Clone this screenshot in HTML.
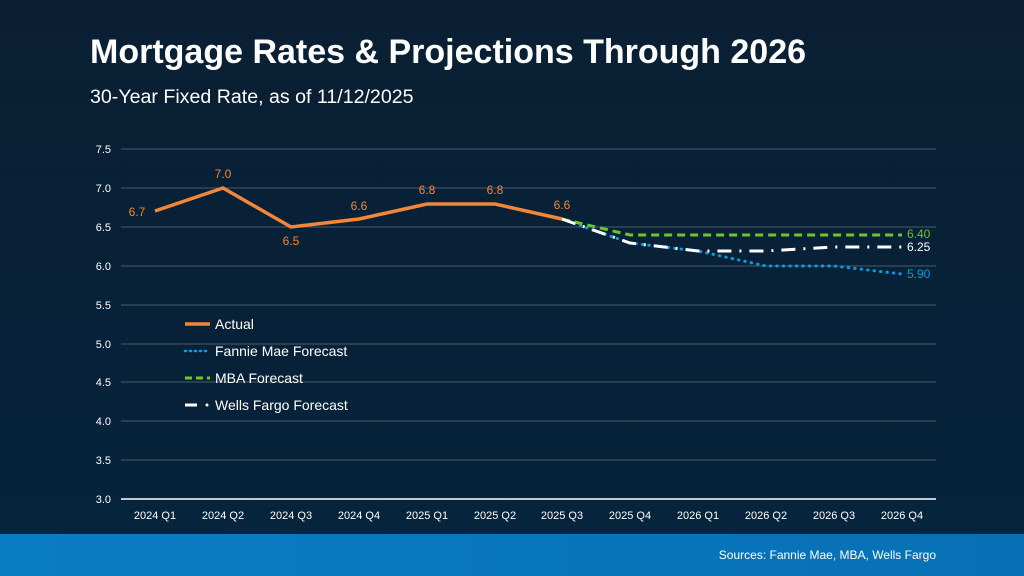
<!DOCTYPE html><html><head><style>
body{margin:0;width:1024px;height:576px;overflow:hidden;background:linear-gradient(180deg,#0a1f33 0%,#072238 60%,#06243d 100%);font-family:"Liberation Sans",Arial,sans-serif;position:relative}
.bar{position:absolute;left:0;top:534px;width:1024px;height:42px;background:linear-gradient(90deg,#0a7cc4,#0770b4)}
</style></head><body>
<div style="position:absolute;left:90px;top:33px;color:#fff;font-weight:bold;font-size:34px">Mortgage Rates &amp; Projections Through 2026</div>
<div style="position:absolute;left:90px;top:86px;color:#fff;font-size:19.6px">30-Year Fixed Rate, as of 11/12/2025</div>
<div class="bar"></div>
<div style="position:absolute;right:88px;top:548px;color:#fff;font-size:12px">Sources: Fannie Mae, MBA, Wells Fargo</div>
<svg width="1024" height="576" style="position:absolute;left:0;top:0" font-family="Liberation Sans, Arial, sans-serif">
<g stroke="#4a5a6a" stroke-width="1">
<line x1="121" x2="936" y1="149" y2="149"/><line x1="121" x2="936" y1="188" y2="188"/><line x1="121" x2="936" y1="227" y2="227"/><line x1="121" x2="936" y1="266" y2="266"/><line x1="121" x2="936" y1="305" y2="305"/><line x1="121" x2="936" y1="344" y2="344"/><line x1="121" x2="936" y1="382" y2="382"/><line x1="121" x2="936" y1="421" y2="421"/><line x1="121" x2="936" y1="460" y2="460"/>
</g>
<line x1="121" x2="936" y1="499" y2="499" stroke="#fff" stroke-width="1.5"/>
<g fill="#fff" font-size="11" text-anchor="end">
<text x="111" y="153">7.5</text><text x="111" y="192">7.0</text><text x="111" y="231">6.5</text><text x="111" y="270">6.0</text><text x="111" y="309">5.5</text><text x="111" y="348">5.0</text><text x="111" y="386">4.5</text><text x="111" y="425">4.0</text><text x="111" y="464">3.5</text><text x="111" y="503">3.0</text>
</g>
<g fill="#fff" font-size="11" text-anchor="middle">
<text x="155" y="519">2024 Q1</text><text x="223" y="519">2024 Q2</text><text x="291" y="519">2024 Q3</text><text x="359" y="519">2024 Q4</text><text x="427" y="519">2025 Q1</text><text x="495" y="519">2025 Q2</text><text x="562" y="519">2025 Q3</text><text x="630" y="519">2025 Q4</text><text x="698" y="519">2026 Q1</text><text x="766" y="519">2026 Q2</text><text x="834" y="519">2026 Q3</text><text x="902" y="519">2026 Q4</text>
</g>
<polyline fill="none" stroke="#0a9ae0" stroke-width="3" stroke-dasharray="0.5 6" stroke-linecap="round" points="562,219 630,243 698,251 766,266 834,266 902,274"/>
<polyline fill="none" stroke="#6cc623" stroke-width="3" stroke-dasharray="8 5" points="562,219 630,235 698,235 766,235 834,235 902,235"/>
<polyline fill="none" stroke="#fff" stroke-width="3" stroke-dasharray="14 8 2 8" points="562,219 630,243 698,251 766,251 834,247 902,247"/>
<polyline fill="none" stroke="#f0873a" stroke-width="3.5" points="155,211 223,188 291,227 359,219 427,204 495,204 562,219"/>
<g fill="#f0873a" font-size="12" text-anchor="middle">
<text x="137" y="216">6.7</text><text x="223" y="178">7.0</text><text x="291" y="245">6.5</text><text x="359" y="210">6.6</text><text x="427" y="194">6.8</text><text x="495" y="194">6.8</text><text x="562" y="209">6.6</text>
</g>
<text x="907" y="238" fill="#6cc623" font-size="12">6.40</text>
<text x="907" y="251" fill="#fff" font-size="12">6.25</text>
<text x="907" y="278" fill="#0a9ae0" font-size="12">5.90</text>
<line x1="185" x2="210" y1="324" y2="324" stroke="#f0873a" stroke-width="3.5"/>
<line x1="185" x2="210" y1="351" y2="351" stroke="#0a9ae0" stroke-width="2.5" stroke-dasharray="1 4" stroke-linecap="round"/>
<line x1="185" x2="210" y1="378" y2="378" stroke="#6cc623" stroke-width="3" stroke-dasharray="7 4"/>
<line x1="185" x2="197" y1="405" y2="405" stroke="#fff" stroke-width="3"/><circle cx="207" cy="405" r="1.5" fill="#fff"/>
<g fill="#fff" font-size="14"><text x="215" y="329">Actual</text><text x="215" y="356">Fannie Mae Forecast</text><text x="215" y="383">MBA Forecast</text><text x="215" y="410">Wells Fargo Forecast</text></g>
</svg>
</body></html>
